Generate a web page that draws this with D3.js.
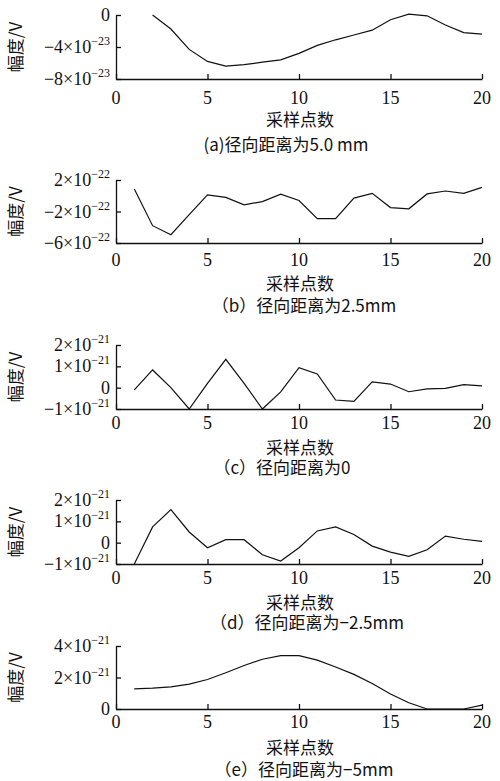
<!DOCTYPE html>
<html>
<head>
<meta charset="utf-8">
<style>
body { margin: 0; background: #fff; }
text { fill: #111; }
.num { font-family: "Liberation Serif", "DejaVu Serif", serif; font-size: 18px; }
.cjk { font-family: "Noto Sans CJK SC", sans-serif; font-size: 17px; }
.line { fill: none; stroke: #111; stroke-width: 1.2; }
.axis path, .axis line { stroke: #111; stroke-width: 1.3; }
</style>
<script src="https://d3js.org/d3.v7.min.js"></script>
</head>
<body>
<svg width="500" height="781"></svg>
<script>
var samples = d3.range(1, 21);

// amplitude values (unit shown by each panel's exponent)
var seriesA = [null, 0, -1.75, -4.3, -5.8, -6.4, -6.2, -5.9, -5.6, -4.8, -3.8, -3.1, -2.5, -1.9, -0.6, 0.1, -0.1, -1.25, -2.2, -2.4];
var seriesB = [0.86, -3.8, -4.95, -2.4, 0.1, -0.2, -1.16, -0.74, 0.19, -0.6, -2.9, -2.9, -0.3, 0.3, -1.5, -1.66, 0.23, 0.6, 0.3, 1.07];
var seriesC = [-0.1, 0.83, 0, -1, 0.2, 1.33, 0.2, -1, -0.2, 0.94, 0.64, -0.58, -0.64, 0.27, 0.17, -0.19, -0.06, -0.03, 0.14, 0.08];
var seriesD = [-1, 0.74, 1.55, 0.5, -0.24, 0.14, 0.14, -0.57, -0.86, -0.24, 0.55, 0.74, 0.38, -0.16, -0.44, -0.64, -0.33, 0.31, 0.16, 0.06];
var seriesE = [1.28, 1.33, 1.41, 1.58, 1.87, 2.3, 2.76, 3.16, 3.39, 3.39, 3.1, 2.67, 2.2, 1.62, 0.95, 0.4, 0, 0, 0, 0.25];

var xTicks = [0, 5, 10, 15, 20];
var yTicksA = [0, -4, -8], yTicksB = [2, -2, -6], yTicksC = [2, 1, 0, -1], yTicksD = [2, 1, 0, -1], yTicksE = [4, 2, 0];
var captions = ["(a)径向距离为5.0 mm", "（b）径向距离为2.5mm", "（c）径向距离为0", "（d）径向距离为−2.5mm", "（e）径向距离为−5mm"];

var panels = [
  {data: seriesA, dom: [-8, 0], exp: "−23", ticks: yTicksA, top: 15, bot: 79, tick: 98, title: 120, cap: 146, cx: 286},
  {data: seriesB, dom: [-6, 2], exp: "−22", ticks: yTicksB, top: 180, bot: 243, tick: 260, title: 284, cap: 307, cx: 304},
  {data: seriesC, dom: [-1, 2], exp: "−21", ticks: yTicksC, top: 345, bot: 409, tick: 423, title: 448, cap: 469, cx: 282},
  {data: seriesD, dom: [-1, 2], exp: "−21", ticks: yTicksD, top: 500, bot: 564, tick: 578, title: 603, cap: 624, cx: 307},
  {data: seriesE, dom: [0, 4], exp: "−21", ticks: yTicksE, top: 646, bot: 709, tick: 722, title: 748, cap: 771, cx: 304}
];

var svg = d3.select("svg");
var x = d3.scaleLinear().domain([0, 20]).range([116, 482]);

panels.forEach(function(p, k) {
  var y = d3.scaleLinear().domain(p.dom).range([p.bot, p.top]);
  var g = svg.append("g");

  g.append("g").attr("class", "axis")
    .attr("transform", "translate(0," + p.bot + ")")
    .call(d3.axisBottom(x).tickValues(xTicks).tickSize(-5).tickSizeOuter(0).tickFormat(""));
  g.append("g").attr("class", "axis")
    .attr("transform", "translate(116,0)")
    .call(d3.axisLeft(y).tickValues(p.ticks).tickSize(-5).tickSizeOuter(0).tickFormat(""));

  xTicks.forEach(function(t) {
    g.append("text").attr("class", "num").attr("x", x(t)).attr("y", p.tick + 6)
      .attr("text-anchor", "middle").text(t);
  });

  p.ticks.forEach(function(t) {
    var tx = g.append("text").attr("class", "num").attr("x", 110).attr("y", y(t) + 6)
      .attr("text-anchor", "end");
    if (t === 0) { tx.text("0"); return; }
    tx.append("tspan").text((t < 0 ? "−" : "") + Math.abs(t) + "×10");
    tx.append("tspan").attr("dy", -8).attr("font-size", 12).text(p.exp);
  });

  var line = d3.line().defined(function(d) { return d != null; })
    .x(function(d, i) { return x(samples[i]); })
    .y(function(d) { return y(d); });
  g.append("path").attr("class", "line").attr("d", line(p.data));

  g.append("text").attr("class", "cjk").attr("font-size", 19)
    .attr("transform", "translate(17," + ((p.top + p.bot) / 2) + ") rotate(-90)")
    .attr("text-anchor", "middle").attr("dominant-baseline", "middle").text("幅度/V");
  g.append("text").attr("class", "cjk").attr("font-size", 18).attr("x", 300).attr("y", p.title + 6)
    .attr("text-anchor", "middle").text("采样点数");
  g.append("text").attr("class", "cjk").attr("x", p.cx).attr("y", p.cap)
    .attr("text-anchor", "middle").attr("dominant-baseline", "middle").attr("font-size", 16).text(captions[k]);
});
</script>
</body>
</html>
